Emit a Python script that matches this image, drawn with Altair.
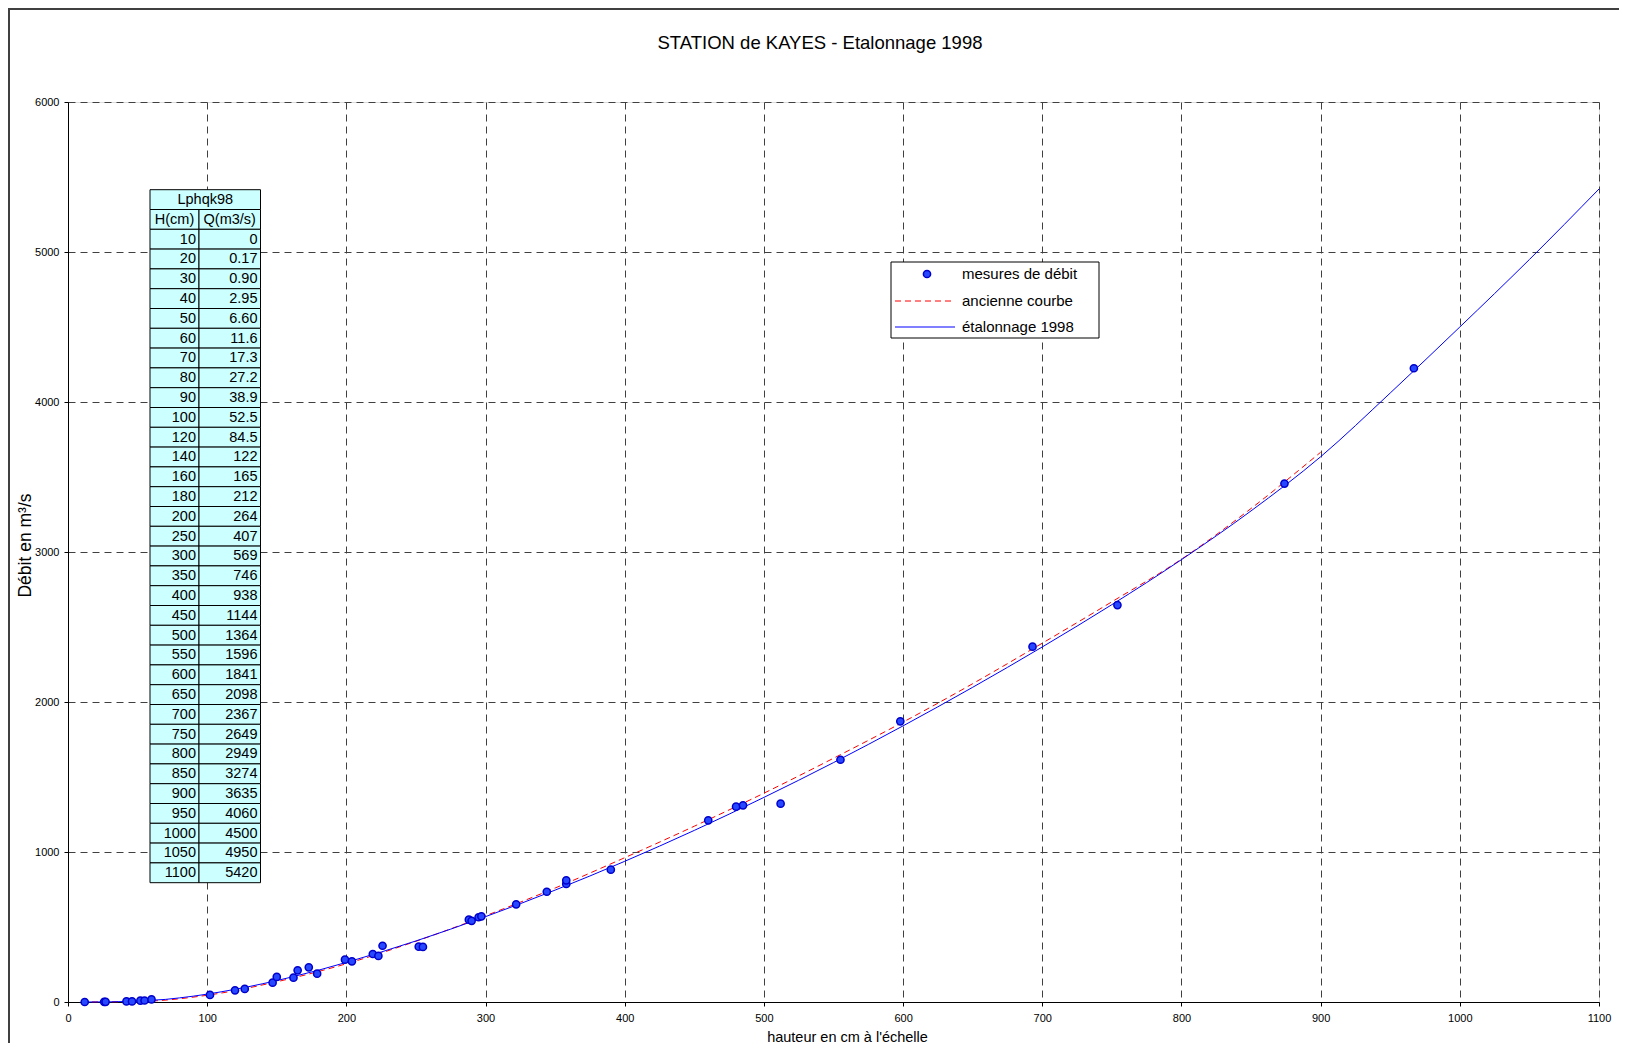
import altair as alt
import pandas as pd

FONT = "Liberation Sans"

# ---- data ----
H_table = [10, 20, 30, 40, 50, 60, 70, 80, 90, 100, 120, 140, 160, 180, 200, 250, 300,
           350, 400, 450, 500, 550, 600, 650, 700, 750, 800, 850, 900, 950, 1000, 1050, 1100]
Q_table = ["0", "0.17", "0.90", "2.95", "6.60", "11.6", "17.3", "27.2", "38.9", "52.5",
           "84.5", "122", "165", "212", "264", "407", "569", "746", "938", "1144", "1364",
           "1596", "1841", "2098", "2367", "2649", "2949", "3274", "3635", "4060", "4500",
           "4950", "5420"]

H_old = [10, 50, 100, 150, 200, 250, 300, 350, 400, 450, 500, 550, 600, 650, 700, 750, 800, 850, 900]
Q_old = [0, 3, 45, 135, 255, 405, 575, 760, 962, 1172, 1392, 1625, 1866, 2122, 2392, 2668, 2952, 3290, 3665]

H_mes = [12, 26, 27, 42, 46, 52, 55, 60, 102, 120, 127, 147, 150, 162, 165, 173, 179, 199, 204,
         219, 223, 226, 252, 255, 288, 290, 295, 297, 322, 344, 358, 358, 390, 460, 480, 485,
         512, 555, 598, 693, 754, 874, 967]
Q_mes = [0, 1, 1, 4, 4, 9, 10, 17, 47, 78, 87, 129, 167, 162, 211, 231, 189, 282, 271,
         320, 307, 375, 369, 367, 549, 541, 565, 571, 651, 735, 787, 811, 882, 1211, 1302, 1311,
         1322, 1615, 1871, 2369, 2646, 3456, 4225]

TITLE = "STATION de KAYES - Etalonnage 1998"
X_TITLE = "hauteur en cm à l'échelle"
Y_TITLE = "Débit en m³/s"
TABLE_NAME = "Lphqk98"
TABLE_HEAD = ["H(cm)", "Q(m3/s)"]
LEGEND = ["mesures de débit", "ancienne courbe", "étalonnage 1998"]

# ---- frames ----
cal = pd.DataFrame({"H": H_table, "Q": [float(q) for q in Q_table]})
old = pd.DataFrame({"H": H_old, "Q": Q_old})
mes = pd.DataFrame({"H": H_mes, "Q": Q_mes})

cells = [{"row": 0, "col": -1, "txt": TABLE_NAME, "kind": "h"},
         {"row": 1, "col": 0, "txt": TABLE_HEAD[0], "kind": "h"},
         {"row": 1, "col": 1, "txt": TABLE_HEAD[1], "kind": "h"}]
for i, (h, q) in enumerate(zip(H_table, Q_table)):
    cells.append({"row": i + 2, "col": 0, "txt": str(h), "kind": "d"})
    cells.append({"row": i + 2, "col": 1, "txt": q, "kind": "d"})
cells = pd.DataFrame(cells)
leg = pd.DataFrame({"label": LEGEND, "i": [0, 1, 2]})

W, H = 1531, 900
xs = alt.Scale(domain=[0, 1100], nice=False, zero=False)
ys = alt.Scale(domain=[0, 6000], nice=False)

common_axis = dict(grid=True, gridDash=[7, 5], gridColor="#404040", gridWidth=1,
                   domainColor="black", domainWidth=1, tickColor="black", tickSize=4,
                   labelFont=FONT, labelFontSize=11, labelColor="black",
                   titleFont=FONT, titleFontWeight="normal",
                   titleColor="black", format="d")
xaxis = alt.Axis(values=list(range(0, 1101, 100)), labelPadding=6, labelFlush=False,
                 title=X_TITLE, titleFontSize=14.5, titleX=779, titleY=35,
                 titleBaseline="middle", titleAlign="center", **common_axis)
yaxis = alt.Axis(values=list(range(0, 6001, 1000)), labelPadding=5, labelFlush=False,
                 title=Y_TITLE, titleFontSize=17.5, titleX=-43, titleY=443,
                 titleBaseline="middle", titleAlign="center", titleAngle=270, **common_axis)

one = alt.Data(values=[{}])

border = alt.Chart(one).mark_rect(fill="transparent", stroke="#404040", strokeWidth=2).encode(
    x=alt.value(-59), x2=alt.value(1600), y=alt.value(-93), y2=alt.value(1000))

red = alt.Chart(old).mark_line(color="#FF0000", strokeWidth=1, strokeDash=[6, 4],
                               interpolate="monotone").encode(
    x=alt.X("H:Q", scale=xs, axis=None), y=alt.Y("Q:Q", scale=ys, axis=None))

blue = alt.Chart(cal).mark_line(color="#0000FF", strokeWidth=1, interpolate="monotone").encode(
    x=alt.X("H:Q", scale=xs, axis=xaxis), y=alt.Y("Q:Q", scale=ys, axis=yaxis))

pts = alt.Chart(mes).mark_point(filled=True, size=52, fill="#2848FF", stroke="#0000CC",
                                strokeWidth=1.5, opacity=1).encode(
    x=alt.X("H:Q", scale=xs, axis=None), y=alt.Y("Q:Q", scale=ys, axis=None))

tbase = alt.Chart(cells).transform_calculate(
    x0="datum.col == 1 ? 131 : 82",
    x1="datum.col == 0 ? 131 : 192.5",
    y0="87.7 + datum.row * 19.8",
    y1="87.7 + (datum.row + 1) * 19.8",
).transform_calculate(
    xm="(datum.x0 + datum.x1) / 2",
    xr="datum.x1 - 3",
    ym="datum.y0 + 10.2",
)
trect = tbase.mark_rect(fill="#CCFFFF", stroke="black", strokeWidth=1).encode(
    x=alt.X("x0:Q", scale=None, axis=None), x2="x1:Q",
    y=alt.Y("y0:Q", scale=None, axis=None), y2="y1:Q")
thead = tbase.transform_filter("datum.kind == 'h'").mark_text(
    align="center", baseline="middle", font=FONT, fontSize=14.5, color="black").encode(
    x=alt.X("xm:Q", scale=None, axis=None), y=alt.Y("ym:Q", scale=None, axis=None), text="txt:N")
tdata = tbase.transform_filter("datum.kind == 'd'").mark_text(
    align="right", baseline="middle", font=FONT, fontSize=14.5, color="black").encode(
    x=alt.X("xr:Q", scale=None, axis=None), y=alt.Y("ym:Q", scale=None, axis=None), text="txt:N")

lbox = alt.Chart(one).mark_rect(fill="white", stroke="black", strokeWidth=1).encode(
    x=alt.value(823), x2=alt.value(1031), y=alt.value(160), y2=alt.value(236))
lpt = alt.Chart(one).mark_point(filled=True, size=52, fill="#2848FF", stroke="#0000CC",
                                strokeWidth=1.5, opacity=1).encode(
    x=alt.value(859), y=alt.value(172))
lred = alt.Chart(one).mark_rule(color="#FF0000", strokeWidth=1, strokeDash=[6, 4]).encode(
    x=alt.value(827), x2=alt.value(887), y=alt.value(199))
lblue = alt.Chart(one).mark_rule(color="#0000FF", strokeWidth=1).encode(
    x=alt.value(827), x2=alt.value(887), y=alt.value(225))
ltext = alt.Chart(leg).transform_calculate(ty="172 + datum.i * 26.5").mark_text(
    align="left", baseline="middle", font=FONT, fontSize=15, color="black").encode(
    x=alt.value(894), y=alt.Y("ty:Q", scale=None, axis=None), text="label:N")

title = alt.Chart(alt.Data(values=[{"t": TITLE}])).mark_text(
    align="center", baseline="middle", font=FONT, fontSize=18.5, color="black").encode(
    x=alt.value(752), y=alt.value(-59), text="t:N")

chart = alt.layer(border, red, blue, pts, trect, thead, tdata,
                  lbox, lpt, lred, lblue, ltext, title).resolve_scale(
    x="independent", y="independent"
).properties(
    width=W, height=H,
    autosize=alt.AutoSizeParams(type="none"),
    padding={"left": 60, "top": 94, "right": 20, "bottom": 41},
).configure_view(stroke=None).configure(background="white")

chart.save("out.html", embed_options={"renderer": "svg", "actions": False})
